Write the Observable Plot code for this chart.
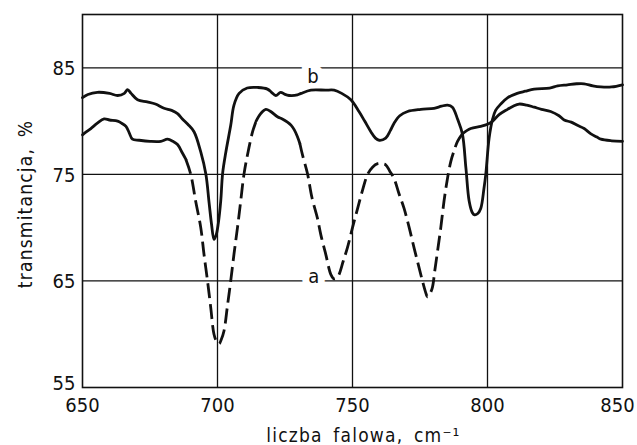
<!DOCTYPE html>
<html>
<head>
<meta charset="utf-8">
<script src="https://cdn.jsdelivr.net/npm/d3@7"></script>
<script src="https://cdn.jsdelivr.net/npm/@observablehq/plot@0.6"></script>
<style>
  html, body { margin: 0; padding: 0; background: #fff; }
  #chart svg { display: block; }
</style>
</head>
<body>
<div id="chart"></div>
<script>
// ---- Data ----
// Curve b (solid, upper): [wavenumber cm^-1, transmittance %]
const curveB = [
  [650, 82.2], [652, 82.5], [655.5, 82.7], [660, 82.6], [663, 82.4], [665.5, 82.6],
  [666.7, 82.95], [668, 82.6], [670.4, 82.0], [674, 81.8], [677, 81.6], [680.2, 81.2],
  [683, 81.0], [685.2, 80.7], [687, 80.2], [689, 79.7], [691.3, 79.0], [693.8, 77.1],
  [695.7, 75.0], [696.9, 72.3], [697.8, 70.3], [698.7, 68.9], [699.5, 69.3], [700.3, 70.4],
  [701.2, 72.5], [701.9, 75.1], [703.1, 77.1], [704.9, 79.6], [706.1, 81.5], [708, 82.6],
  [711, 83.1], [715, 83.15], [718.5, 83.0], [720, 82.7], [721.6, 82.4], [723.4, 82.7],
  [725, 82.5], [726.5, 82.4], [729.6, 82.45], [731, 82.6], [734.6, 82.9], [740, 82.9],
  [743.2, 82.9], [746, 82.6], [749.4, 82.0], [752.4, 80.9], [754.5, 80.0], [756.8, 79.0],
  [758.5, 78.4], [759.9, 78.2], [762.3, 78.4], [764, 79.1], [765.4, 79.8], [767.5, 80.5],
  [770.4, 80.9], [775.3, 81.1], [780.2, 81.2], [783, 81.4], [785.2, 81.5], [787, 81.3],
  [788.9, 80.2], [790.7, 78.8], [792, 75.6], [793.2, 72.5], [794.4, 71.4], [795.2, 71.2],
  [796.3, 71.3], [797.5, 71.8], [798.7, 73.7], [799.4, 75.1], [800.6, 78.4], [801.9, 80.2],
  [803, 81.0], [804.9, 81.6], [807.5, 82.2], [811, 82.6], [814, 82.8], [817.3, 83.0],
  [823, 83.1], [826, 83.3], [829.6, 83.4], [833, 83.5], [835.8, 83.5], [839, 83.3],
  [842, 83.2], [846, 83.2], [850, 83.4]
];

// Curve a: solid and dashed stretches
const curveA_solid1 = [
  [650, 78.7], [651.5, 79.0], [653.1, 79.3], [655.5, 79.8], [658, 80.2], [660, 80.1],
  [663, 80.0], [664.5, 79.8], [666.1, 79.5], [667.3, 78.9], [668.5, 78.3], [671, 78.2],
  [675, 78.1], [679, 78.1], [681.5, 78.3], [683.5, 78.1], [685.2, 77.8], [687, 77.0],
  [688.3, 76.4]
];
const curveA_dashed1 = [
  [688.3, 76.4], [690.1, 75.0], [691.9, 72.5], [693.8, 70.0], [695, 67.5], [696.3, 65.0],
  [697.5, 62.5], [698.7, 60.0], [699.7, 59.3], [700.6, 59.1], [701.4, 59.5], [702.4, 60.3],
  [703.7, 62.7], [704.9, 65.0], [706.1, 67.5], [707.4, 70.0], [708.6, 72.5], [709.8, 75.0],
  [711.4, 77.2], [713, 79.0], [714.3, 80.0]
];
const curveA_solid2 = [
  [714.3, 80.0], [716, 80.7], [717.9, 81.1], [719.7, 80.9], [722.2, 80.4], [724, 80.2],
  [725.9, 79.9], [727.3, 79.6], [728.4, 79.2], [729.5, 78.6], [730.5, 77.9]
];
const curveA_dashed2 = [
  [730.5, 77.9], [731.5, 76.8], [733.3, 75.1], [735, 72.8], [737, 70.9], [738.3, 69.3],
  [740.1, 67.5], [742, 65.6], [743.2, 65.2], [744.2, 65.3], [745, 65.6], [746.5, 66.8],
  [748.1, 68.1], [750, 70.0], [751.9, 71.8], [753.7, 73.5], [755.6, 75.0], [757.5, 75.7],
  [759.3, 76.0], [760.8, 76.0], [762.3, 75.9], [763.8, 75.3], [765.4, 74.6], [767.2, 73.2],
  [769.1, 71.8], [771, 70.0], [772.8, 68.1], [774.4, 66.5], [775.9, 65.0], [777, 64.0],
  [777.8, 63.5], [778.7, 63.8], [779.6, 64.4], [780.5, 66.0], [781.5, 67.8], [782.7, 70.0],
  [783.9, 72.5], [785.1, 74.5], [786.4, 76.2], [787.6, 77.2], [788.9, 78.1], [790.7, 78.8]
];
const curveA_solid3 = [
  [790.7, 78.8], [793.8, 79.3], [797.5, 79.5], [800, 79.7], [801.9, 80.0], [804.3, 80.6],
  [807.4, 81.1], [809.5, 81.4], [811.7, 81.6], [814.5, 81.5], [817.3, 81.3], [820, 81.1],
  [823.4, 80.9], [826.5, 80.5], [828.4, 80.1], [831, 79.9], [833.3, 79.6], [835.8, 79.3],
  [838.3, 78.8], [840.5, 78.5], [842, 78.3], [846, 78.15], [850, 78.1]
];

// Curve labels
const labelNames = ["b", "a"];
const labelWave = [735.4, 735.7];
const labelTrans = [85, 65];

// Axis ticks
const xTicks = [650, 700, 750, 800];
const xTickLast = [850];
const yTicks = [65, 75, 85];
const yTickBottom = [55];
const xGrid = [700, 750, 800];
const yGrid = [65, 75, 85];

const xTitle = "liczba falowa, cm⁻¹";
const yTitle = "transmitancja, %";

// ---- Chart ----
const FONT = "'DejaVu Sans Condensed', 'Liberation Sans Narrow', 'DejaVu Sans', sans-serif";
const labels = labelNames.map((t, i) => ({text: t, x: labelWave[i], y: labelTrans[i]}));
const px = d => d[0], py = d => d[1];
const lineStyle = {x: px, y: py, stroke: "#111", strokeWidth: 2.8, curve: "catmull-rom", strokeLinejoin: "round", strokeLinecap: "round"};
const dashStyle = {...lineStyle, strokeDasharray: "15,6", strokeLinecap: "butt"};
const xAxisStyle = {tickSize: 0, tickPadding: 10, tickFormat: d => String(d), label: null, fontSize: 20};
const yAxisStyle = {tickSize: 0, tickPadding: 7, tickFormat: d => String(d), label: null, fontSize: 20};

const chart = Plot.plot({
  width: 637,
  height: 445,
  marginLeft: 82,
  marginRight: 15,
  marginTop: 14,
  marginBottom: 58,
  style: {fontFamily: FONT, fontSize: "20px", color: "#111", background: "#fff"},
  x: {domain: [650, 850]},
  y: {domain: [55, 90]},
  marks: [
    Plot.gridX(xGrid, {stroke: "#111", strokeOpacity: 1, strokeWidth: 1.3}),
    Plot.gridY(yGrid, {stroke: "#111", strokeOpacity: 1, strokeWidth: 1.3}),
    Plot.text(labels, {
      x: "x", y: "y", text: "text", fill: "#111", stroke: "#fff", strokeWidth: 14,
      fontSize: 20, lineAnchor: "middle"
    }),
    Plot.frame({stroke: "#111", strokeWidth: 1.6}),
    Plot.line(curveB, lineStyle),
    Plot.line(curveA_solid1, lineStyle),
    Plot.line(curveA_dashed1, dashStyle),
    Plot.line(curveA_solid2, lineStyle),
    Plot.line(curveA_dashed2, dashStyle),
    Plot.line(curveA_solid3, lineStyle),
    Plot.axisX({ticks: xTicks, ...xAxisStyle}),
    Plot.axisX({ticks: xTickLast, ...xAxisStyle, dx: -5}),
    Plot.axisY({ticks: yTicks, ...yAxisStyle, dy: 1}),
    Plot.axisY({ticks: yTickBottom, ...yAxisStyle, dy: -3.5}),
    Plot.text([xTitle], {frameAnchor: "bottom", dx: 11, dy: 48, textAnchor: "middle", lineAnchor: "middle", fontSize: 19}),
    Plot.text([yTitle], {frameAnchor: "left", dx: -57, dy: 3, rotate: -90, textAnchor: "middle", lineAnchor: "middle", fontSize: 19})
  ]
});

d3.select(chart).selectAll("text").each(function() {
  const t = this.textContent;
  const s = d3.select(this);
  // curve labels: b hangs below its grid line, a sits on its grid line
  if (t === "b") s.attr("dy", "0.45em");
  if (t === "a") s.attr("dy", "-0.2em");
  // the axis titles of the reference are widely spaced lettering
  if (t === xTitle || t === yTitle) s.style("letter-spacing", "1.2px").style("word-spacing", "4px");
});
document.getElementById("chart").appendChild(chart);
</script>
</body>
</html>
